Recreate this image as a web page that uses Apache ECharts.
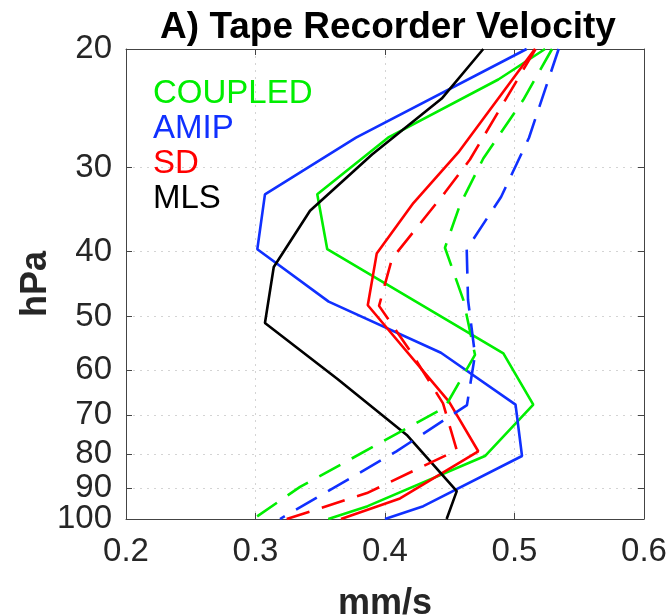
<!DOCTYPE html>
<html><head><meta charset="utf-8">
<script src="https://cdn.jsdelivr.net/npm/echarts@6/dist/echarts.min.js"></script>
<style>html,body{margin:0;padding:0;background:#fff;overflow:hidden}#c{width:672px;height:616px}</style>
</head><body><div id="c"></div>
<script>
// ---- data (velocity in mm/s, pressure in hPa) ----
const yTicks = [20, 30, 40, 50, 60, 70, 80, 90, 100];
const yLabelsUpper = [20, 30, 40, 50, 60, 70, 80, 90];
const yLabelsBottom = [100];
const xTicks = [0.2, 0.3, 0.4, 0.5, 0.6];
const legendNames = ['COUPLED', 'AMIP', 'SD', 'MLS'];

const coupledP = [20, 22.2, 27.1, 32.9, 39.7, 56.7, 67.6, 80.6, 95.7, 100];
const coupledV = [0.5236, 0.4875, 0.4023, 0.3477, 0.3554, 0.4914, 0.5145, 0.4772, 0.3866, 0.3562];
const coupledDashP = [20, 23.8, 29.1, 34.1, 39.5, 47.3, 57.0, 68.2, 89.6, 100];
const coupledDashV = [0.5290, 0.5068, 0.4759, 0.4579, 0.4463, 0.4606, 0.4695, 0.4463, 0.3344, 0.2983];

const amipP = [20, 27.1, 32.9, 39.7, 47.5, 56.6, 67.6, 80.6, 95.7, 100];
const amipV = [0.5094, 0.3776, 0.3073, 0.3014, 0.3565, 0.4432, 0.5008, 0.5058, 0.4296, 0.4000];
const amipDashP = [20, 27.1, 33.2, 39.7, 47.2, 57.0, 67.7, 79.4, 100];
const amipDashV = [0.5341, 0.5112, 0.4896, 0.4631, 0.4641, 0.4695, 0.4633, 0.4085, 0.3189];

const sdP = [20, 28.5, 33.9, 40.3, 48.1, 66.9, 79.3, 93.2, 100];
const sdV = [0.5158, 0.4566, 0.4219, 0.3936, 0.3867, 0.4494, 0.4720, 0.4116, 0.3660];
const sdDashP = [20, 29.2, 32.7, 41.0, 48.2, 56.5, 67.3, 79.0, 91.5, 100];
const sdDashV = [0.5163, 0.4656, 0.4463, 0.4054, 0.3954, 0.4201, 0.4448, 0.4554, 0.3861, 0.3241];

const mlsP = [20, 23.7, 28.7, 34.8, 42.2, 51.1, 61.9, 75.0, 90.9, 100];
const mlsV = [0.4759, 0.4438, 0.3900, 0.3421, 0.3141, 0.3073, 0.3633, 0.4168, 0.4554, 0.4476];

// ---- styling ----
const GREEN = '#00ee00', BLUE = '#1030ff', RED = '#ff0000', BLACK = '#000000';
const FONT = "'Liberation Sans', Arial, Helvetica, sans-serif";
const DASH = [24, 13];

function pairs(v, p) { return v.map((x, i) => [x, p[i]]); }
function line(name, v, p, color, dashed) {
  return {
    name: name, type: 'line', data: pairs(v, p), showSymbol: false, symbol: 'none',
    xAxisIndex: 0, yAxisIndex: 0, clip: true, animation: false,
    lineStyle: { color: color, width: 2.6, type: dashed ? DASH : 'solid', cap: 'butt' },
    itemStyle: { color: color }
  };
}

const gridLine = { show: true, lineStyle: { color: '#d4d4d4', width: 1, type: [2, 5] } };
const axisLineStyle = { show: true, lineStyle: { color: '#444', width: 1 } };
const labelStyle = { color: '#262626', fontSize: 33, fontFamily: FONT, lineHeight: 24 };
const tickStyle = { show: true, inside: true, length: 6, lineStyle: { color: '#444' } };

const chart = echarts.init(document.getElementById('c'), null, { renderer: 'canvas', width: 672, height: 616 });
chart.setOption({
  backgroundColor: '#fff',
  animation: false,
  title: {
    text: 'A) Tape Recorder Velocity', left: 383, top: 4, textAlign: 'center',
    textStyle: { fontSize: 37, fontWeight: 'bold', color: '#000', fontFamily: FONT }
  },
  legend: {
    orient: 'vertical', left: 148, top: 76, padding: 0, itemGap: 0,
    itemWidth: 0, itemHeight: 35, icon: 'none', selectedMode: false,
    data: legendNames.map((n, i) => ({
      name: n, icon: 'none',
      textStyle: { color: [GREEN, BLUE, RED, BLACK][i], fontSize: 33, fontFamily: FONT, lineHeight: 35 }
    }))
  },
  grid: { left: 126, width: 518, top: 49, height: 470, containLabel: false, outerBoundsMode: 'none' },
  xAxis: [{
    type: 'value', min: 0.2, max: 0.6, interval: 0.1, position: 'bottom',
    name: 'mm/s', nameLocation: 'middle', nameGap: 67,
    nameTextStyle: { fontSize: 36, fontWeight: 'bold', color: '#262626', fontFamily: FONT },
    axisLine: axisLineStyle,
    axisTick: tickStyle,
    axisLabel: Object.assign({ margin: 21, showMinLabel: true, showMaxLabel: true, formatter: v => v.toFixed(1) }, labelStyle),
    splitLine: gridLine
  }, {
    type: 'value', min: 0.2, max: 0.6, interval: 0.1, position: 'top',
    axisLine: axisLineStyle,
    axisTick: tickStyle,
    axisLabel: { show: false }, splitLine: { show: false }
  }],
  yAxis: [{
    type: 'log', logBase: 10, min: 20, max: 100, inverse: true, position: 'left',
    name: 'hPa', nameLocation: 'middle', nameGap: 72, nameRotate: 90,
    nameTextStyle: { fontSize: 36, fontWeight: 'bold', color: '#262626', fontFamily: FONT },
    axisLine: axisLineStyle,
    axisTick: Object.assign({ customValues: yTicks }, tickStyle),
    axisLabel: Object.assign({ margin: 14, customValues: yLabelsUpper, showMinLabel: true, showMaxLabel: true,
      formatter: v => String(Math.round(v)) }, labelStyle),
    splitLine: gridLine
  }, {
    type: 'log', logBase: 10, min: 20, max: 100, inverse: true, position: 'right',
    axisLine: axisLineStyle,
    axisTick: Object.assign({ customValues: yTicks }, tickStyle),
    axisLabel: { show: false, customValues: yTicks }, splitLine: { show: false }
  }, {
    type: 'log', logBase: 10, min: 20, max: 100, inverse: true, position: 'left', offset: 0,
    axisLine: { show: false }, axisTick: { show: false, customValues: yLabelsBottom },
    axisLabel: Object.assign({ margin: 14, customValues: yLabelsBottom, showMinLabel: true, showMaxLabel: true,
      formatter: v => String(Math.round(v)) }, labelStyle),
    splitLine: { show: false }
  }],
  series: [
    line('COUPLED', coupledV, coupledP, GREEN, false),
    line('AMIP', amipV, amipP, BLUE, false),
    line('SD', sdV, sdP, RED, false),
    line('MLS', mlsV, mlsP, BLACK, false),
    line('COUPLED', coupledDashV, coupledDashP, GREEN, true),
    line('AMIP', amipDashV, amipDashP, BLUE, true),
    line('SD', sdDashV, sdDashP, RED, true)
  ]
});
</script></body></html>
